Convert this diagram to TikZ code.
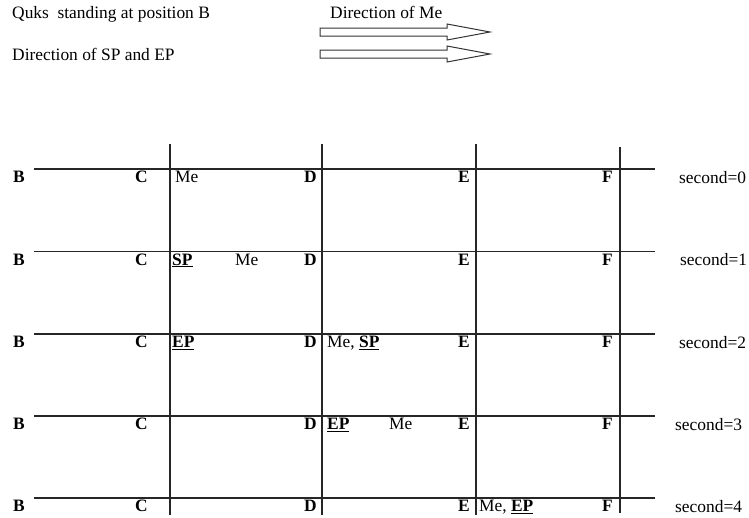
\documentclass[tikz,border=0pt]{standalone}
\usepackage{fontspec}
\setmainfont{Liberation Serif}
\begin{document}
\begin{tikzpicture}[x=1pt, y=-1pt,
    font=\fontsize{17.4}{20}\selectfont,
    grid/.style={line width=1.3pt, black!85},
    posname/.style={font=\fontsize{17.4}{20}\selectfont\bfseries, inner sep=0pt, anchor=base east},
    who/.style={inner sep=0pt, anchor=base west},
    blockarrow/.style={line width=1pt, black!80, line join=miter}]
    \useasboundingbox (0,0) rectangle (749,517);

    % legend
    \node[who] (quks) at (12,18) {Quks\ \ standing at position B};
    \node[who] (dirme) at (330,18) {Direction of Me};
    \node[who] (dirsp) at (12,60) {Direction of SP and EP};
    \foreach \c in {32,54}
        \draw[blockarrow] (320,\c-4) -- (447,\c-4) -- (447,\c-8) -- (490,\c)
            -- (447,\c+8) -- (447,\c+4) -- (320,\c+4) -- cycle;

    % vertical lines at C, D, E, F
    \foreach \x/\t/\b in {170/144/515, 322/144/515, 476/144/515, 620/147/513}
        \draw[grid] (\x,\t) -- (\x,\b);

    % one row per second
    \foreach \r/\y/\s in {0/169/679, 1/251.5/680, 2/334/679, 3/416/675, 4/498/675} {
        \draw[grid] (34,\y) -- (655,\y);
        \node[posname, anchor=base west] (B\r) at (13,\y+13.5) {B};
        \node[posname] (C\r) at (148,\y+13.5) {C};
        \node[posname] (D\r) at (317,\y+13.5) {D};
        \node[posname] (E\r) at (470,\y+13.5) {E};
        \node[posname] (F\r) at (613,\y+13.5) {F};
        \node[who] (sec\r) at (\s,\y+14) {second=\r};
    }

    % who is where
    \node[who] (me0) at (175,182.5) {Me};
    \node[who] (sp1) at (172,265) {\underline{\textbf{SP}}};
    \node[who] (me1) at (235,265) {Me};
    \node[who] (ep2) at (172,347.5) {\underline{\textbf{EP}}};
    \node[who] (mesp2) at (327,347.5) {Me, \underline{\textbf{SP}}};
    \node[who] (ep3) at (327,429.5) {\underline{\textbf{EP}}};
    \node[who] (me3) at (389,429.5) {Me};
    \node[who] (meep4) at (479,511.5) {Me, \underline{\textbf{EP}}};
\end{tikzpicture}
\end{document}
